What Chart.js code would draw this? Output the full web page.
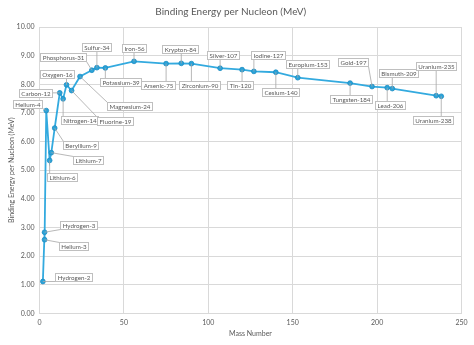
<!DOCTYPE html>
<html>
<head>
<meta charset="utf-8">
<script src="https://cdn.jsdelivr.net/npm/chart.js@4"></script>
<style>
  html, body { margin: 0; padding: 0; background: #ffffff; }
  #wrap { width: 474px; height: 345px; }
</style>
</head>
<body>
<div id="wrap"><canvas id="c" width="474" height="345"></canvas></div>
<script>
// ---- Data ----
const nuclides = ['Hydrogen-2','Hydrogen-3','Helium-3','Helium-4','Lithium-6','Lithium-7','Beryllium-9','Carbon-12','Nitrogen-14','Oxygen-16','Fluorine-19','Magnesium-24','Phosphorus-31','Sulfur-34','Potassium-39','Iron-56','Arsenic-75','Krypton-84','Zirconium-90','Silver-107','Tin-120','Iodine-127','Cesium-140','Europium-153','Tungsten-184','Gold-197','Lead-206','Bismuth-209','Uranium-235','Uranium-238'];
const massNumbers = [2,3,3,4,6,7,9,12,14,16,19,24,31,34,39,56,75,84,90,107,120,127,140,153,184,197,206,209,235,238];
const bindingEnergy = [1.11,2.83,2.57,7.08,5.34,5.61,6.47,7.70,7.49,7.98,7.78,8.27,8.49,8.58,8.57,8.80,8.72,8.73,8.72,8.56,8.51,8.45,8.42,8.23,8.04,7.92,7.88,7.85,7.60,7.58];
const xTicks = [0,50,100,150,200,250];
const yTicks = [0,1,2,3,4,5,6,7,8,9,10];

// ---- Label placement (pixel offsets of each callout from its point) ----
const labelOffsets = [
  [31,-5],[34,-7],[29,6],[-19,-7],[12,17],[37,7],[26,17],[-24,0],[16,21],[-10,-11],
  [43,30],[49,29],[-29,-13],[0,-21],[15,14],[0,-13],[-8,21],[-1,-14],[8,21],[3,-13],
  [-2,15],[14,-16],[5,20],[10,-14],[1,16],[-19,-25],[3,17],[6,-16],[0,-30],[-8,24]
];

const FONT = 'Lato, "Open Sans", "Liberation Sans", sans-serif';
const TXT = '#595959';
const GRID = '#D9D9D9';

const calloutPlugin = {
  id: 'callouts',
  afterDatasetsDraw(chart) {
    const ctx = chart.ctx;
    const meta = chart.getDatasetMeta(0);
    ctx.save();
    ctx.font = '6.2px ' + FONT;
    ctx.textAlign = 'center';
    ctx.textBaseline = 'middle';
    const boxes = meta.data.map((pt, i) => {
      const [dx, dy] = labelOffsets[i];
      const cx = pt.x + dx, cy = pt.y + dy;
      const tw = ctx.measureText(nuclides[i]).width;
      const w = Math.round(tw + 4), h = 8;
      const l = Math.round(cx - w / 2) + 0.5, t = Math.round(cy - h / 2) + 0.5;
      return { pt, l, t, w, h, text: nuclides[i] };
    });
    // leaders first
    boxes.forEach(b => {
      const nx = Math.max(b.l, Math.min(b.pt.x, b.l + b.w));
      const ny = Math.max(b.t, Math.min(b.pt.y, b.t + b.h));
      if (Math.hypot(nx - b.pt.x, ny - b.pt.y) > 3) {
        ctx.strokeStyle = '#A6A6A6';
        ctx.lineWidth = 0.8;
        ctx.beginPath();
        ctx.moveTo(b.pt.x, b.pt.y);
        ctx.lineTo(nx, ny);
        ctx.stroke();
      }
    });
    // boxes and text
    boxes.forEach(b => {
      ctx.fillStyle = '#FFFFFF';
      ctx.fillRect(b.l, b.t, b.w, b.h);
      ctx.strokeStyle = '#BFBFBF';
      ctx.lineWidth = 1;
      ctx.strokeRect(b.l, b.t, b.w, b.h);
      ctx.fillStyle = TXT;
      ctx.fillText(b.text, b.l + b.w / 2, b.t + b.h / 2 + 0.5);
    });
    ctx.restore();
  }
};

new Chart(document.getElementById('c'), {
  type: 'line',
  data: {
    datasets: [{
      data: massNumbers.map((m, i) => ({ x: m, y: bindingEnergy[i] })),
      borderColor: '#33AADF',
      backgroundColor: '#1E96CC',
      borderWidth: 1.8,
      pointRadius: 2.4,
      pointBackgroundColor: '#2AA3D9',
      pointBorderColor: '#1A8CC2',
      pointBorderWidth: 0.8,
      tension: 0,
      fill: false
    }]
  },
  options: {
    responsive: false,
    animation: false,
    devicePixelRatio: 1,
    layout: { padding: { left: 0, right: 12.5, top: 0, bottom: 0 } },
    plugins: {
      legend: { display: false },
      tooltip: { enabled: false },
      title: {
        display: true,
        text: 'Binding Energy per Nucleon (MeV)',
        color: TXT,
        font: { family: FONT, size: 10, weight: 'normal' },
        padding: { top: 6, bottom: 9 }
      }
    },
    scales: {
      x: {
        type: 'linear',
        min: 0, max: 250,
        afterBuildTicks(scale) { scale.ticks = xTicks.map(v => ({ value: v })); },
        afterFit(scale) { scale.height = 31.7; },
        grid: { color: GRID, drawTicks: false },
        border: { color: GRID },
        ticks: { color: TXT, font: { family: FONT, size: 7 }, padding: 5, maxRotation: 0 },
        title: { display: true, text: 'Mass Number', color: TXT, font: { family: FONT, size: 7 }, padding: { top: 0, bottom: 7.5 } }
      },
      y: {
        type: 'linear',
        min: 0, max: 10,
        afterBuildTicks(scale) { scale.ticks = yTicks.map(v => ({ value: v })); },
        afterFit(scale) { scale.width = 39.5; },
        grid: { color: GRID, drawTicks: false },
        border: { color: GRID },
        ticks: { color: TXT, font: { family: FONT, size: 7 }, padding: 5, callback: v => Number(v).toFixed(2) },
        title: { display: true, text: 'Binding Energy per Nucleon (MeV)', color: TXT, font: { family: FONT, size: 7 }, padding: { top: 8, bottom: 0 } }
      }
    }
  },
  plugins: [calloutPlugin]
});
</script>
</body>
</html>
